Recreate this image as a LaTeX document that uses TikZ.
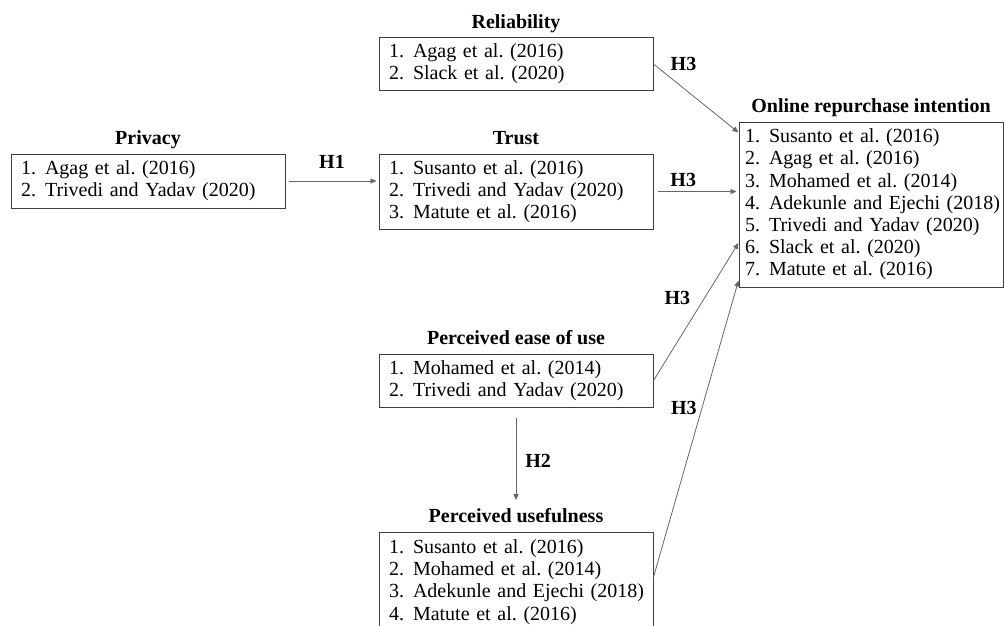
\documentclass[tikz,border=0pt]{standalone}
\usepackage{fontspec}
\setmainfont{Liberation Serif}
\usetikzlibrary{positioning, arrows.meta}
\frenchspacing
\newcommand{\refitem}[2]{\makebox[24pt][l]{#1.}\mbox{#2}}

\begin{document}
\begin{tikzpicture}[
    refbox/.style={draw=black!75, line width=1pt, align=left, text width=254pt, inner xsep=10pt, inner ysep=0pt, font=\fontsize{20pt}{22.2pt}\selectfont},
    headline/.style={font=\fontsize{20pt}{22.2pt}\selectfont\bfseries, inner sep=0pt, text height=14pt, text depth=4pt},
    hypo/.style={font=\fontsize{20pt}{22.2pt}\selectfont\bfseries, inner sep=0pt},
    hypline/.style={draw=black!60, line width=0.8pt, -{Triangle[length=6pt,width=5pt]}}
  ]
			\useasboundingbox (0,0) rectangle (1004pt,-626pt);

			\node[refbox, minimum height=54pt] (privacy) at (148pt,-181pt) {\refitem{1}{Agag et al. (2016)}\\\refitem{2}{Trivedi and Yadav (2020)}};
			\node[refbox, minimum height=75pt, right=93pt of privacy.north east, anchor=north west] (trust) {\refitem{1}{Susanto et al. (2016)}\\\refitem{2}{Trivedi and Yadav (2020)}\\\refitem{3}{Matute et al. (2016)}};
			\node[refbox, minimum height=52pt, above=63pt of trust] (reliab) {\refitem{1}{Agag et al. (2016)}\\\refitem{2}{Slack et al. (2020)}};
			\node[refbox, minimum height=53pt, below=124pt of trust] (peou) {\refitem{1}{Mohamed et al. (2014)}\\\refitem{2}{Trivedi and Yadav (2020)}};
			\node[refbox, minimum height=100pt, below=124pt of peou] (useful) {\refitem{1}{Susanto et al. (2016)}\\\refitem{2}{Mohamed et al. (2014)}\\\refitem{3}{Adekunle and Ejechi (2018)}\\\refitem{4}{Matute et al. (2016)}};
			\node[refbox, text width=252pt, inner xsep=6pt, minimum height=165pt] (online) at (871pt,-204.5pt) {\refitem{1}{Susanto et al. (2016)}\\\refitem{2}{Agag et al. (2016)}\\\refitem{3}{Mohamed et al. (2014)}\\\refitem{4}{Adekunle and Ejechi (2018)}\\\refitem{5}{Trivedi and Yadav (2020)}\\\refitem{6}{Slack et al. (2020)}\\\refitem{7}{Matute et al. (2016)}};

			\node[headline, above=5pt of privacy] (privacyhead) {Privacy};
			\node[headline, above=5pt of trust] (trusthead) {Trust};
			\node[headline, above=5pt of reliab] (reliabhead) {Reliability};
			\node[headline, above=5pt of peou] (peouhead) {Perceived ease of use};
			\node[headline, above=5pt of useful] (usefulhead) {Perceived usefulness};
			\node[headline, above=5pt of online] (onlinehead) {Online repurchase intention};

			\draw[hypline, shorten <=3pt, shorten >=2pt] (privacy.east) -- node[hypo, above=12pt] (honelbl) {H1} (privacy.east -| trust.west);
			\draw[hypline] (reliab.east) -- ([yshift=-11pt]online.north west);
			\node[hypo, right=17pt of reliab.east] (hthreealbl) {H3};
			\draw[hypline, shorten <=4pt, shorten >=2pt] (trust.east) -- node[hypo, pos=0.35, above=4pt] (hthreeblbl) {H3} (online.west |- trust.east);
			\draw[hypline] (peou.east) -- node[hypo, pos=0.6, left=14pt] (hthreeclbl) {H3} ([yshift=-38.5pt]online.west);
			\draw[hypline] ([yshift=5pt]useful.east) -- node[hypo, pos=0.57, left=5pt] (hthreedlbl) {H3} ([yshift=7pt]online.south west);
			\draw[hypline, shorten <=10pt, shorten >=8pt] (peou.south) -- node[hypo, pos=0.53, right=9pt] (htwolbl) {H2} (peou.south |- usefulhead.north);
		\end{tikzpicture}
\end{document}
